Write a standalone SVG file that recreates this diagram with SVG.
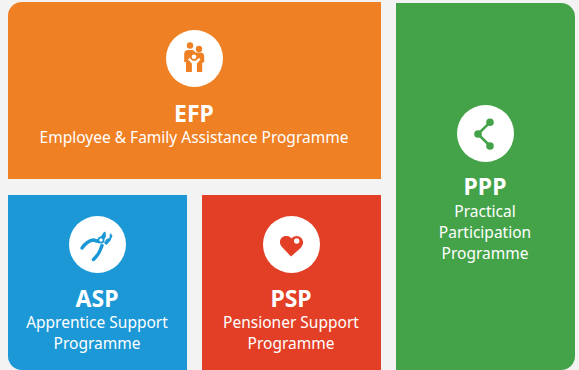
<svg xmlns="http://www.w3.org/2000/svg" width="579" height="370" viewBox="0 0 579 370">
<style>
text{font-family:"Noto Sans","Open Sans",sans-serif;fill:#fff;text-anchor:middle}
.t{font-size:23px;font-weight:700}
.s{font-size:15.500px}
.c{fill:#fff}
</style>
<rect width="579" height="370" fill="#f3f3f3"/>
<g id="efp">
<path d="M22 2H381V179H8V16A14 14 0 0 1 22 2Z" fill="#f08024"/>
<circle class="c" cx="194.500" cy="58.500" r="28.500"/>
<g fill="#f08024">
<circle cx="190" cy="45.500" r="3.200"/>
<circle cx="199" cy="49" r="3.200"/>
<path d="M184.200 62V54q0-4 4-4h4q2 0 3.500 2.500h4.500q4 0 4 4V62l-2 1V72H186V62z"/>
</g>
<g fill="#fff">
<circle cx="194" cy="56.700" r="2.300"/>
<path d="M188 59.500l1.400-1.500 3.300 2.800h3l3.300-2.800 1.400 1.500-3.500 4V72h-5V63.500z"/>
</g>
<path d="M193.300 66V72" stroke="#f08024" stroke-width="0" fill="none"/>
</g>
<text class="t" x="194" y="122">EFP</text>
<text class="s" x="194" y="143">Employee &amp; Family Assistance Programme</text>
<g id="asp">
<path d="M8 195H187V370H22A14 14 0 0 1 8 356Z" fill="#1b98d5"/>
<circle class="c" cx="97.500" cy="244.500" r="28.500"/>
<g fill="none" stroke="#1b98d5" stroke-width="3.400" stroke-linecap="round" stroke-linejoin="round">
<path d="M82 248q5-7 11-8l6 1.500"/>
<path d="M93.500 259.500q5-5 6.500-9l2-5"/>
</g>
<path d="M100 238l3.500-5.500 2-1 .5 5-2 3zM104 243l2.500-4 3-1 .5-5 2.500 2.500-2 5-4 4.500z" fill="#1b98d5"/>
<circle cx="101" cy="240" r="2.600" fill="#fff" stroke="#1b98d5" stroke-width="1.800"/>
</g>
<text class="t" x="97" y="307">ASP</text>
<text class="s" x="97" y="328">Apprentice Support</text>
<text class="s" x="97" y="349">Programme</text>
<g id="psp">
<rect x="202" y="195" width="179" height="175" fill="#e23f26"/>
<circle class="c" cx="291.500" cy="244.500" r="28.500"/>
<path d="M291 256.500l-9-9.500c-5-6 0-12 5-11 2 0 3.500 1 4.500 2.500 1-1.500 3-2.500 5-2.500 5 0 8 5 6 9-1 2-2 3-3 4z" fill="#e23f26"/>
<circle class="c" cx="296.700" cy="241" r="2.700"/>
</g>
<text class="t" x="291" y="307">PSP</text>
<text class="s" x="291" y="328">Pensioner Support</text>
<text class="s" x="291" y="349">Programme</text>
<g id="ppp">
<path d="M396 3H561A14 14 0 0 1 575 17V356A14 14 0 0 1 561 370H396Z" fill="#44a349"/>
<circle class="c" cx="485.500" cy="133.500" r="28.500"/>
<g fill="#44a349">
<path d="M478 134L490 122.300M478 134L490 146" stroke="#44a349" stroke-width="2.500" fill="none"/>
<circle cx="478" cy="134" r="3.800"/>
<circle cx="490" cy="122.300" r="3.800"/>
<circle cx="490" cy="146" r="3.800"/>
</g>
</g>
<text class="t" x="485" y="195">PPP</text>
<text class="s" x="485" y="217">Practical</text>
<text class="s" x="485" y="238">Participation</text>
<text class="s" x="485" y="259">Programme</text>
</svg>
